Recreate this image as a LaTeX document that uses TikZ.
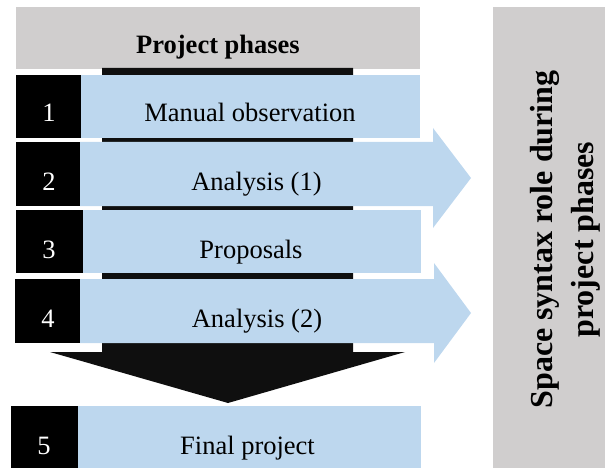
\documentclass[tikz,border=0pt]{standalone}
\usepackage{fontspec}
\setmainfont{Liberation Serif}
\definecolor{phaseblue}{HTML}{BDD7EE}
\definecolor{headgray}{HTML}{D0CECE}
\definecolor{barblack}{HTML}{0F0F0F}
\begin{document}
\begin{tikzpicture}[x=1pt,y=-1pt,
  box/.style={inner sep=0pt, outer sep=0pt, anchor=north west, draw=none},
  numbox/.style={box, fill=black},
  bluebox/.style={box, fill=phaseblue},
  graybox/.style={box, fill=headgray},
  lbl/.style={font=\fontsize{26.5}{30}\selectfont, anchor=base, inner sep=0pt},
  numlbl/.style={lbl, text=white},
  bluearrow/.style={fill=phaseblue},
]
\useasboundingbox (0,0) rectangle (605,468);
% header
\node[graybox, minimum width=404pt, minimum height=62pt] (header) at (16,7) {};
\node[lbl, font=\bfseries\fontsize{26.5}{30}\selectfont] (headertext) at (218,53.5) {Project phases};
% black flow bar with down arrow
\fill[barblack] (102,68) -- (353,68) -- (353,352) -- (405,352) -- (228,403) -- (50,352) -- (102,352) -- cycle;
% row 1
\node[numbox, minimum width=65pt, minimum height=63pt] (b1) at (16,75) {};
\node[bluebox, minimum width=339pt, minimum height=63pt] (r1) at (81,75) {};
\node[numlbl] (n1) at (49,122) {1};
\node[lbl] (t1) at (250,122) {Manual observation};
% row 2
\node[numbox, minimum width=64pt, minimum height=64pt] (b2) at (16,142) {};
\fill[bluearrow] (80,142) -- (433,142) -- (433,128) -- (471,178) -- (433,228) -- (433,206) -- (80,206) -- cycle;
\node[numlbl] (n2) at (49,190) {2};
\node[lbl] (t2) at (256.5,190) {Analysis (1)};
% row 3
\node[numbox, minimum width=67pt, minimum height=63pt] (b3) at (16,210) {};
\node[bluebox, minimum width=338pt, minimum height=63pt] (r3) at (83,210) {};
\node[numlbl] (n3) at (49,258) {3};
\node[lbl] (t3) at (251,258) {Proposals};
% row 4
\node[numbox, minimum width=65pt, minimum height=64pt] (b4) at (15,279) {};
\fill[bluearrow] (80,279) -- (434,279) -- (434,263) -- (471,313) -- (434,363) -- (434,343) -- (80,343) -- cycle;
\node[numlbl] (n4) at (48,327) {4};
\node[lbl] (t4) at (257,327) {Analysis (2)};
% row 5
\node[numbox, minimum width=67pt, minimum height=62pt] (b5) at (11,406) {};
\node[bluebox, minimum width=343pt, minimum height=62pt] (r5) at (78,406) {};
\node[numlbl] (n5) at (44,454) {5};
\node[lbl] (t5) at (247.5,454) {Final project};
% side panel
\node[graybox, minimum width=112pt, minimum height=461pt] (side) at (493,7) {};
\node[rotate=90, inner sep=0pt, align=center, font=\bfseries\fontsize{32}{41}\selectfont] (sidetext) at (565,239.5) {Space syntax role during\\project phases};
\end{tikzpicture}
\end{document}
